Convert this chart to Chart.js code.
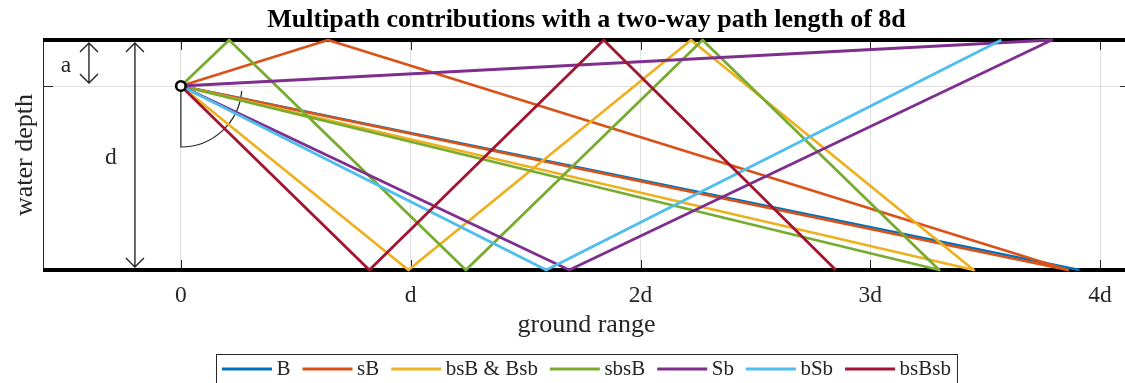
<!DOCTYPE html>
<html>
<head>
<meta charset="utf-8">
<script src="https://cdn.jsdelivr.net/npm/chart.js@4"></script>
<style>
  html, body { margin: 0; padding: 0; background: #fff; overflow: hidden; }
</style>
</head>
<body>
<canvas id="chart" width="1140" height="383"></canvas>
<script>
// ground range and depth are both in units of the water depth d
// depth 0 is the surface, -1 the seabed
const sourceRange = [0]
const sourceDepth = [-0.2]

const names = ['B', 'sB', 'bsB & Bsb', 'sbsB', 'Sb', 'bSb', 'bsBsb']
const colors = ['#0072BD', '#D95319', '#EDB120', '#77AC30', '#7E2F8E', '#4DBEEE', '#A2142F']

const rangeB = [0, 3.91]
const depthB = [-0.2, -1]
const rangeSB = [0, 0.64, 3.86, 0]
const depthSB = [-0.2, 0, -1, -0.2]
const rangeBsB = [0, 0.99, 2.22, 3.45, 0]
const depthBsB = [-0.2, -1, 0, -1, -0.2]
const rangeSbsB = [0, 0.21, 1.24, 2.27, 3.30, 0]
const depthSbsB = [-0.2, 0, -1, 0, -1, -0.2]
const rangeSb = [0, 3.79, 1.69, 0]
const depthSb = [-0.2, 0, -1, -0.2]
const rangeBSb = [0, 1.59, 3.57]
const depthBSb = [-0.2, -1, 0]
const rangeBsBsb = [0, 0.82, 1.84, 2.85]
const depthBsBsb = [-0.2, -1, 0, -1]

const xTicks = [0, 1, 2, 3, 4]
const xTickLabels = ['0', 'd', '2d', '3d', '4d']
const yTicks = [-0.2]
const rangeLimits = [-0.6, 4.13]
const surfaceDepth = 0
const seabedDepth = -1

const serif = "'Liberation Serif', 'Times New Roman', serif"
const ink = '#262626'
Chart.defaults.font.family = serif
Chart.defaults.color = ink

function points(xs, ys) {
  return xs.map((x, i) => ({ x, y: ys[i] }))
}

const paths = [
  points(rangeB, depthB),
  points(rangeSB, depthSB),
  points(rangeBsB, depthBsB),
  points(rangeSbsB, depthSbsB),
  points(rangeSb, depthSb),
  points(rangeBSb, depthBSb),
  points(rangeBsBsb, depthBsBsb)
]

const datasets = paths.map((data, i) => ({
  label: names[i],
  data,
  borderColor: colors[i],
  backgroundColor: colors[i],
  borderWidth: 2.8,
  borderJoinStyle: 'round',
  pointRadius: 0,
  showLine: true,
  clip: 4,
  // later paths sit on top, like the original plot
  order: names.length - i
}))

datasets.push({
  label: 'source',
  data: points(sourceRange, sourceDepth),
  pointRadius: 4.8,
  pointBorderWidth: 2.6,
  pointBorderColor: '#000',
  pointBackgroundColor: '#fff',
  showLine: false,
  clip: false,
  order: 0
})

;[surfaceDepth, seabedDepth].forEach(depth => {
  datasets.push({
    label: depth === surfaceDepth ? 'surface' : 'seabed',
    data: points(rangeLimits, [depth, depth]),
    borderColor: '#000',
    borderWidth: 4,
    borderCapStyle: 'butt',
    pointRadius: 0,
    showLine: true,
    clip: false,
    order: 50
  })
})

function doubleArrow(ctx, x, y1, y2) {
  const head = 9
  ctx.beginPath()
  ctx.moveTo(x, y1)
  ctx.lineTo(x, y2)
  ctx.moveTo(x - head, y1 + head)
  ctx.lineTo(x, y1)
  ctx.lineTo(x + head, y1 + head)
  ctx.moveTo(x - head, y2 - head)
  ctx.lineTo(x, y2)
  ctx.lineTo(x + head, y2 - head)
  ctx.stroke()
}

// arrows, labels, angle mark and inward ticks
const sketch = {
  id: 'sketch',
  beforeDatasetsDraw(chart) {
    const { ctx, chartArea, scales: { x, y } } = chart
    ctx.save()
    ctx.strokeStyle = ink
    ctx.lineWidth = 1.4

    doubleArrow(ctx, x.getPixelForValue(-0.4), y.getPixelForValue(surfaceDepth) + 3, y.getPixelForValue(sourceDepth[0]) - 3)
    doubleArrow(ctx, x.getPixelForValue(-0.2), y.getPixelForValue(surfaceDepth) + 3, y.getPixelForValue(seabedDepth) - 3)

    ctx.fillStyle = ink
    ctx.font = '23.5px ' + serif
    ctx.textAlign = 'center'
    ctx.textBaseline = 'alphabetic'
    ctx.fillText('a', x.getPixelForValue(-0.5), y.getPixelForValue(-0.138))
    ctx.fillText('d', x.getPixelForValue(-0.305), y.getPixelForValue(-0.539))

    // angle mark at the source
    const sx = x.getPixelForValue(sourceRange[0])
    const sy = y.getPixelForValue(sourceDepth[0])
    const r = 61
    ctx.lineWidth = 1.2
    ctx.beginPath()
    ctx.moveTo(sx, sy)
    ctx.lineTo(sx, sy + r)
    ctx.arc(sx, sy, r, Math.PI / 2, 0.08, true)
    ctx.stroke()

    // ticks point inward on all four sides
    ctx.lineWidth = 1
    const len = 10
    ctx.beginPath()
    xTicks.forEach(v => {
      const px = Math.round(x.getPixelForValue(v)) + 0.5
      ctx.moveTo(px, chartArea.bottom)
      ctx.lineTo(px, chartArea.bottom - len)
      ctx.moveTo(px, chartArea.top)
      ctx.lineTo(px, chartArea.top + len)
    })
    yTicks.forEach(v => {
      const py = Math.round(y.getPixelForValue(v)) + 0.5
      ctx.moveTo(chartArea.left, py)
      ctx.lineTo(chartArea.left + len, py)
      ctx.moveTo(chartArea.right, py)
      ctx.lineTo(chartArea.right - len, py)
    })
    ctx.stroke()
    ctx.restore()
  }
}

// legend in one framed row below the axis title
const boxLegend = {
  id: 'boxLegend',
  afterDraw(chart) {
    const { ctx, chartArea } = chart
    const items = chart.data.datasets.filter(ds => names.includes(ds.label))
    ctx.save()
    ctx.font = '21px ' + serif
    const pad = 6, lineLen = 50, gap = 4.5
    const widths = items.map(ds => pad + lineLen + gap + ctx.measureText(ds.label).width + pad)
    const total = widths.reduce((a, b) => a + b, 0)
    let left = Math.round((chartArea.left + chartArea.right) / 2 - total / 2)
    const top = chartArea.bottom + 84
    const mid = top + 15

    ctx.fillStyle = '#fff'
    ctx.fillRect(left, top, total, 32)
    ctx.strokeStyle = ink
    ctx.lineWidth = 1
    ctx.strokeRect(left + 0.5, top + 0.5, total, 32)

    ctx.textAlign = 'left'
    ctx.textBaseline = 'middle'
    items.forEach((ds, i) => {
      ctx.strokeStyle = ds.borderColor
      ctx.lineWidth = 3
      ctx.beginPath()
      ctx.moveTo(left + pad, mid)
      ctx.lineTo(left + pad + lineLen, mid)
      ctx.stroke()
      ctx.fillStyle = ink
      ctx.fillText(ds.label, left + pad + lineLen + gap, mid + 0.5)
      left += widths[i]
    })
    ctx.restore()
  }
}

const grid = { color: 'rgba(38,38,38,0.15)', lineWidth: 1, drawTicks: false }

new Chart(document.getElementById('chart'), {
  type: 'scatter',
  data: { datasets },
  plugins: [sketch, boxLegend],
  options: {
    responsive: false,
    animation: false,
    events: [],
    devicePixelRatio: 1,
    layout: { padding: { left: 0, right: 10, top: 0, bottom: 42.6 } },
    plugins: {
      legend: { display: false },
      tooltip: { enabled: false },
      title: {
        display: true,
        fullSize: false,
        text: 'Multipath contributions with a two-way path length of 8d',
        color: '#000',
        font: { size: 26, weight: 'bold', lineHeight: 1.2 },
        padding: { top: 4.4, bottom: 4.4 }
      }
    },
    scales: {
      x: {
        type: 'linear',
        min: rangeLimits[0],
        max: rangeLimits[1],
        grid,
        border: { display: false },
        afterBuildTicks: scale => { scale.ticks = xTicks.map(value => ({ value })) },
        afterFit: scale => { scale.height = 70.4 },
        ticks: {
          font: { size: 23.5, lineHeight: 1.2 },
          padding: 11.4,
          maxRotation: 0,
          callback: value => xTickLabels[xTicks.indexOf(value)]
        },
        title: {
          display: true,
          text: 'ground range',
          font: { size: 26, lineHeight: 1.2 },
          padding: { top: 0, bottom: 0 }
        }
      },
      y: {
        type: 'linear',
        min: seabedDepth,
        max: surfaceDepth,
        grid,
        border: { display: true, color: ink, width: 1 },
        afterBuildTicks: scale => { scale.ticks = yTicks.map(value => ({ value })) },
        afterFit: scale => { scale.width = 43 },
        ticks: { display: false },
        title: {
          display: true,
          text: 'water depth',
          font: { size: 26, lineHeight: 1.2 },
          padding: { top: 9.4, bottom: 0 }
        }
      }
    }
  }
})
</script>
</body>
</html>
